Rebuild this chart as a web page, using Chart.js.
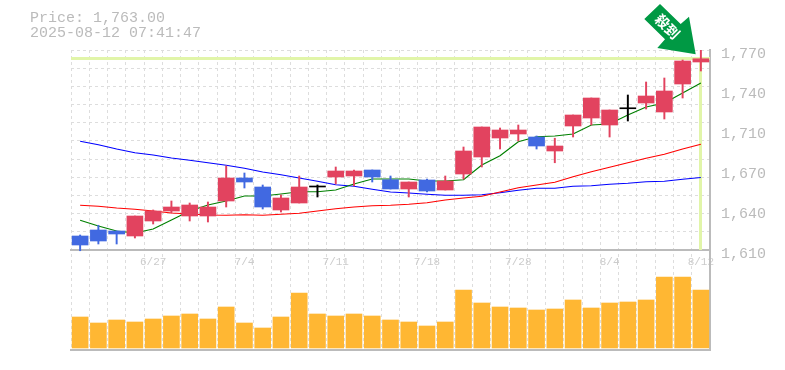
<!DOCTYPE html>
<html>
<head>
<meta charset="utf-8">
<title>Price chart</title>
<script src="https://cdn.jsdelivr.net/npm/chart.js@4"></script>
<style>
  body { margin: 0; background: #fff; }
  #wrap { position: relative; width: 785px; height: 370px; }
  #info { position: absolute; left: 30px; top: 11px; font: 15px/15px "Liberation Mono", monospace; color: #bbb; white-space: pre; }
</style>
</head>
<body>
<div id="wrap">
  <canvas id="chart" width="785" height="370"></canvas>
  <div id="info">Price: 1,763.00
2025-08-12 07:41:47</div>
</div>
<script>
const dates = ['6/23','6/24','6/25','6/26','6/27','6/30','7/1','7/2','7/3','7/4','7/7','7/8','7/9','7/10','7/11','7/14','7/15','7/16','7/17','7/18','7/22','7/23','7/24','7/25','7/28','7/29','7/30','7/31','8/1','8/4','8/5','8/6','8/7','8/8','8/12'];
const shownDates = ['6/27','7/4','7/11','7/18','7/28','8/4','8/12'];

const open  = [1621.2,1626,1625.2,1621.2,1633.2,1641.2,1637.2,1637.2,1649.2,1667.6,1660.4,1642,1647.6,1660.4,1668.4,1669.2,1674,1666.2,1658.8,1666,1658,1670.8,1684.4,1699.6,1702.8,1700.4,1689.2,1709.2,1715.6,1710,1723,1727.6,1720.4,1742.8,1760.4];
const close = [1614,1617.2,1622.8,1637.2,1641.2,1644.4,1646,1644.4,1667.6,1664.4,1644.4,1651.6,1660.4,1661.2,1673.2,1673.2,1668.4,1658.8,1664.4,1657.2,1665.2,1689.2,1708.4,1706,1706,1693.2,1693.2,1718,1731.6,1722,1723.8,1733.2,1737.2,1761.2,1763];
const high  = [1622,1629.8,1625.2,1637.2,1642,1649.2,1647.6,1648.4,1677.2,1671.6,1662,1654,1669.2,1662,1676.4,1674,1674,1669.2,1664.4,1666.8,1669.2,1692.4,1708.4,1707.6,1710,1701.2,1699.4,1718,1731.6,1722,1734,1744.4,1747.6,1762,1770];
const low   = [1609.4,1614.8,1614.8,1619.6,1630.8,1639.6,1633.2,1632.4,1644.4,1659.6,1642.8,1640.4,1647.6,1652.4,1662.8,1661.2,1664.4,1658.8,1652.4,1656.4,1658,1666.8,1676.4,1690.8,1697.2,1690.8,1679.8,1700.4,1710,1700.4,1713.2,1722.8,1714.8,1731.6,1753.2];

const ma5  = [1633.8,1629.2,1625.2,1623.6,1626.8,1634,1641.2,1646,1649.2,1653.2,1653.2,1654.8,1656.6,1656.6,1658,1662.8,1666.8,1666.8,1666.8,1665.2,1665.2,1666.2,1678,1685.4,1696.6,1700.6,1701.2,1702.8,1710,1710.8,1718,1724.4,1727.6,1735.6,1743.6];
const ma25 = [1645.8,1645,1643.6,1642.6,1641.2,1639.6,1638.8,1638,1637.8,1638.2,1637.8,1638.6,1639.4,1641.2,1643,1644.4,1645.4,1645.8,1646.6,1647.8,1650,1651.6,1653,1656.4,1659.8,1662,1664.2,1668.6,1672.6,1676.2,1679.8,1683.4,1686.6,1690.8,1694.6];
const ma75 = [1697,1694.2,1690.8,1687.8,1686,1683.6,1681.8,1679.8,1677.8,1675.4,1672.4,1670.2,1667.6,1665,1662.2,1661,1658.6,1656.4,1655.6,1654.6,1653.8,1653.8,1654.2,1655.8,1657.8,1659.4,1659.4,1661,1661.4,1662.6,1663.4,1664.6,1665,1666.6,1668];

const volume = [31,25,28,26,29,32,34,29,41,25,20,31,55,34,32,34,32,28,26,22,26,58,45,41,40,38,39,48,40,45,46,48,71,71,58];

const currentPrice = 1763;
const priceTicks = [1770,1738,1706,1674,1642,1610];
const priceLabels = ['1,770','1,740','1,710','1,670','1,640','1,610'];
const gridTop = 1770, gridBottom = 1610, gridSteps = 11;

const UP = '#e2435f', DOWN = '#4169e1', DOJI = '#000000';
const candleColor = open.map((o, i) => {
  if (Math.abs(close[i] - o) < 1) return DOJI;
  return close[i] > o ? UP : DOWN;
});

// pale green cross hair on the last price
const priceMarker = {
  id: 'priceMarker',
  beforeDatasetsDraw(chart) {
    const { ctx, chartArea, scales } = chart;
    const py = Math.floor(scales.y.getPixelForValue(currentPrice)) + 0.5;
    const px = Math.floor(scales.x.getPixelForValue(dates.length - 1)) + 0.5;
    ctx.save();
    ctx.strokeStyle = '#e1f5a9';
    ctx.lineWidth = 3;
    ctx.beginPath();
    ctx.moveTo(chartArea.left, py);
    ctx.lineTo(chartArea.right, py);
    ctx.moveTo(px, py);
    ctx.lineTo(px, scales.y.getPixelForValue(gridBottom));
    ctx.stroke();
    ctx.restore();
  }
};

// green arrow at the top right
const arrowMark = {
  id: 'arrowMark',
  afterDraw(chart) {
    const ctx = chart.ctx;
    const pts = [[660,4],[644.3,19],[665,39.3],[657.3,48],[695.7,54.3],[689,16.7],[680.7,24]];
    ctx.save();
    ctx.fillStyle = '#009944';
    ctx.beginPath();
    pts.forEach((p, i) => i ? ctx.lineTo(p[0], p[1]) : ctx.moveTo(p[0], p[1]));
    ctx.closePath();
    ctx.fill();
    ctx.fillStyle = '#fff';
    ctx.font = 'bold 14px "Noto Sans CJK JP"';
    ctx.textAlign = 'center';
    ctx.textBaseline = 'middle';
    ctx.translate(667.5, 26.5);
    ctx.rotate(Math.PI / 4);
    ctx.fillText('殺到', 0, 0);
    ctx.restore();
  }
};

new Chart(document.getElementById('chart'), {
  data: {
    labels: dates,
    datasets: [
      { type: 'bar', data: close.map((c, i) => [Math.min(open[i], c), Math.max(open[i], c)]), backgroundColor: candleColor, barThickness: 16, grouped: false, yAxisID: 'y', order: 1 },
      { type: 'bar', data: high.map((h, i) => [low[i], h]), backgroundColor: candleColor, barThickness: 1.3, grouped: false, yAxisID: 'y', order: 2 },
      { type: 'line', data: ma5, borderColor: '#008000', borderWidth: 1.2, pointRadius: 0, tension: 0, yAxisID: 'y', order: 3 },
      { type: 'line', data: ma25, borderColor: '#ff0000', borderWidth: 1.2, pointRadius: 0, tension: 0, yAxisID: 'y', order: 3 },
      { type: 'line', data: ma75, borderColor: '#0000ff', borderWidth: 1.2, pointRadius: 0, tension: 0, yAxisID: 'y', order: 3 },
      { type: 'bar', data: volume, backgroundColor: '#ffb733', barThickness: 16, grouped: false, yAxisID: 'yVol', order: 4 }
    ]
  },
  options: {
    responsive: false,
    animation: false,
    layout: { padding: { left: 71, top: 50, right: 0, bottom: 20 } },
    plugins: { legend: { display: false }, tooltip: { enabled: false }, title: { display: false } },
    scales: {
      x: {
        type: 'category',
        position: { y: gridBottom },
        offset: true,
        grid: { color: '#ddd', lineWidth: 1, drawTicks: false, offset: true },
        border: { color: '#bbb', width: 2, dash: [3, 3] },
        ticks: {
          autoSkip: false, maxRotation: 0, minRotation: 0, padding: 5,
          color: '#ccc', font: { family: '"Liberation Mono"', size: 11 },
          callback: (v, i) => shownDates.includes(dates[i]) ? dates[i] : ''
        }
      },
      xBase: {
        type: 'category', position: 'bottom', offset: true,
        grid: { display: false, drawTicks: false },
        border: { color: '#bbb', width: 2 },
        ticks: { display: false }
      },
      y: {
        position: 'right', min: 1530, max: 1770,
        grid: { display: false, drawTicks: false },
        border: { color: '#bbb', width: 2 },
        afterBuildTicks: s => { s.ticks = priceTicks.map(v => ({ value: v })); },
        afterFit: s => { s.width = 75; },
        ticks: {
          autoSkip: false, padding: 11, labelOffset: 4, color: '#bbb',
          font: { family: '"Liberation Mono"', size: 15 },
          callback: (v, i) => priceLabels[i]
        }
      },
      yGrid: {
        position: 'right', min: 1530, max: 1770,
        afterBuildTicks: s => {
          const t = [];
          for (let k = 0; k < gridSteps; k++) t.push({ value: gridTop - k * (gridTop - gridBottom) / gridSteps });
          s.ticks = t;
        },
        afterFit: s => { s.width = 0; },
        grid: { color: '#ddd', lineWidth: 1, drawTicks: false },
        border: { display: false, dash: [3, 3] },
        ticks: { display: false, autoSkip: false }
      },
      yVol: { display: false, min: -2, max: 298 }
    }
  },
  plugins: [priceMarker, arrowMark]
});
</script>
</body>
</html>
